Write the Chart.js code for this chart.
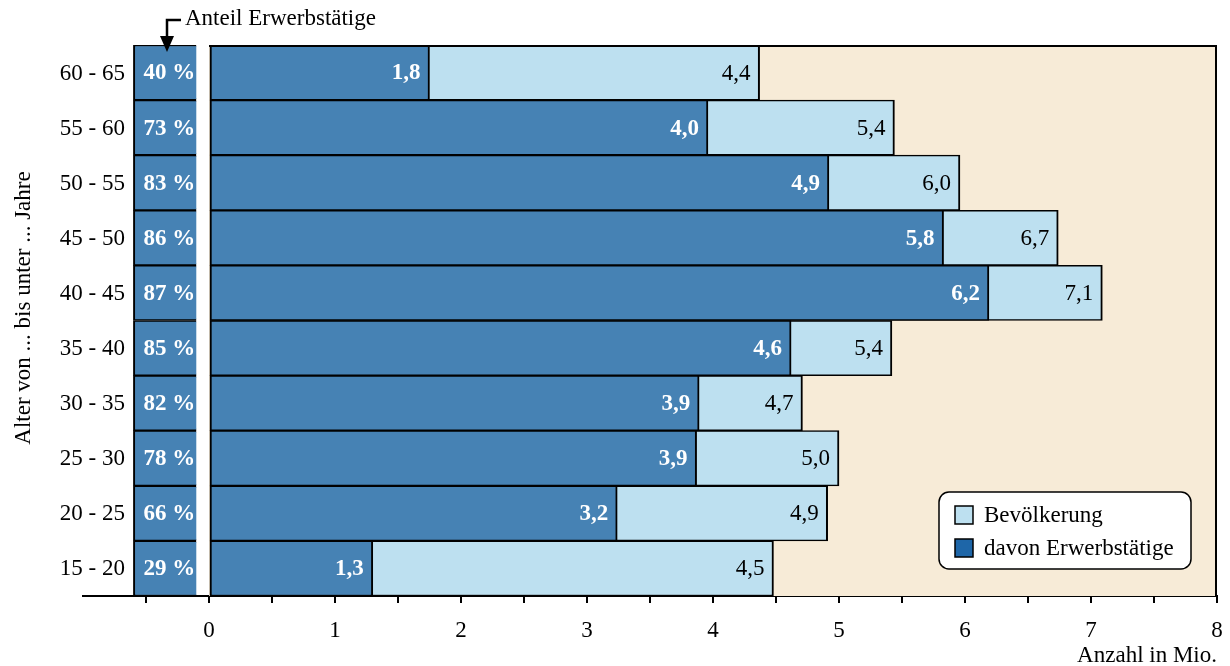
<!DOCTYPE html>
<html lang="de">
<head>
<meta charset="utf-8">
<title>Bevölkerung und Erwerbstätige nach Alter</title>
<script src="https://cdn.jsdelivr.net/npm/chart.js@4.4.1/dist/chart.umd.min.js"></script>
<style>
  html, body { margin: 0; padding: 0; background: #fff; }
  #chart { display: block; }
</style>
</head>
<body>
<canvas id="chart" width="1230" height="666"></canvas>
<script>
// Altersgruppen von oben nach unten
const ageGroups = ['60 - 65', '55 - 60', '50 - 55', '45 - 50', '40 - 45', '35 - 40', '30 - 35', '25 - 30', '20 - 25', '15 - 20'];
// Bevölkerung und davon Erwerbstätige, in Mio.
const population = [4.37, 5.44, 5.96, 6.74, 7.09, 5.42, 4.71, 5.0, 4.91, 4.48];
const employed = [1.75, 3.96, 4.92, 5.83, 6.19, 4.62, 3.89, 3.87, 3.24, 1.3];
// Anteil Erwerbstätige in %
const employedShare = [40, 73, 83, 86, 87, 85, 82, 78, 66, 29];
const xTickLabels = [0, 1, 2, 3, 4, 5, 6, 7, 8];

const serif = '"Liberation Serif", "Times New Roman", serif';
const darkBlue = '#4682b4';
const lightBlue = '#bde0f0';
const beige = '#f7ebd7';
const shareColumn = [-0.6, -0.1]; // Lage der Prozent-Spalte links von 0

Chart.defaults.font.family = serif;
Chart.defaults.font.size = 23;
Chart.defaults.color = '#000';

const fmt = v => v.toFixed(1).replace('.', ',');

const backdrop = {
  id: 'backdrop',
  beforeDatasetsDraw(chart) {
    const {ctx, chartArea: a, scales: {x}} = chart;
    const x0 = x.getPixelForValue(0);
    ctx.save();
    ctx.fillStyle = beige;
    ctx.fillRect(x0, a.top, a.right - x0, a.bottom - a.top);
    ctx.restore();
  },
  afterDatasetsDraw(chart) {
    const {ctx, chartArea: a, scales: {x}} = chart;
    const x0 = x.getPixelForValue(0);
    ctx.save();
    ctx.strokeStyle = '#000';
    ctx.lineWidth = 2;
    ctx.beginPath();
    ctx.moveTo(x0, a.top + 1);
    ctx.lineTo(a.right - 1, a.top + 1);
    ctx.lineTo(a.right - 1, a.bottom);
    ctx.stroke();
    ctx.restore();
  }
};

const valueLabels = {
  id: 'valueLabels',
  afterDatasetsDraw(chart) {
    const {ctx, scales: {y}} = chart;
    ctx.save();
    ctx.textBaseline = 'middle';
    ctx.textAlign = 'right';
    ctx.font = `23px ${serif}`;
    ctx.fillStyle = '#000';
    chart.getDatasetMeta(1).data.forEach((bar, i) => {
      ctx.fillText(fmt(population[i]), bar.x - 9, bar.y + 1);
    });
    // Beschriftung der Altersgruppen
    ageGroups.forEach((g, i) => {
      ctx.fillText(g, 125, y.getPixelForValue(i) + 1);
    });
    ctx.font = `bold 23px ${serif}`;
    ctx.fillStyle = '#fff';
    chart.getDatasetMeta(0).data.forEach((bar, i) => {
      ctx.fillText(fmt(employed[i]), bar.x - 9, bar.y + 1);
    });
    ctx.textAlign = 'left';
    chart.getDatasetMeta(2).data.forEach((bar, i) => {
      ctx.fillText(employedShare[i] + ' %', Math.min(bar.x, bar.base) + 10, bar.y + 1);
    });
    ctx.restore();
  }
};

const annotations = {
  id: 'annotations',
  afterDraw(chart) {
    const {ctx, chartArea: a, scales: {x}} = chart;
    ctx.save();
    // Hinweis "Anteil Erwerbstätige" mit Pfeil
    const ax = Math.round(x.getPixelForValue(-0.33));
    ctx.strokeStyle = '#000';
    ctx.fillStyle = '#000';
    ctx.lineWidth = 2.5;
    ctx.beginPath();
    ctx.moveTo(ax + 14, 20);
    ctx.lineTo(ax, 20);
    ctx.lineTo(ax, 40);
    ctx.stroke();
    ctx.beginPath();
    ctx.moveTo(ax - 7, 36);
    ctx.lineTo(ax + 7, 36);
    ctx.lineTo(ax, 52);
    ctx.closePath();
    ctx.fill();
    ctx.font = `23px ${serif}`;
    ctx.textAlign = 'left';
    ctx.textBaseline = 'middle';
    ctx.fillText('Anteil Erwerbstätige', ax + 18, 19);

    // Achsentitel
    ctx.textAlign = 'right';
    ctx.textBaseline = 'alphabetic';
    ctx.fillText('Anzahl in Mio.', a.right, 662);
    ctx.save();
    ctx.translate(30, 308);
    ctx.rotate(-Math.PI / 2);
    ctx.textAlign = 'center';
    ctx.fillText('Alter von ... bis unter ... Jahre', 0, 0);
    ctx.restore();

    // Legende
    const lx = a.right - 278, ly = a.bottom - 104, lw = 252, lh = 77;
    ctx.fillStyle = '#fff';
    ctx.strokeStyle = '#000';
    ctx.lineWidth = 1.5;
    ctx.beginPath();
    ctx.roundRect(lx, ly, lw, lh, 10);
    ctx.fill();
    ctx.stroke();
    const items = [['Bevölkerung', lightBlue], ['davon Erwerbstätige', '#1e66a8']];
    items.forEach(([label, color], i) => {
      const iy = ly + 14 + i * 33;
      ctx.fillStyle = color;
      ctx.fillRect(lx + 16, iy, 18, 18);
      ctx.strokeStyle = '#000';
      ctx.lineWidth = 1.5;
      ctx.strokeRect(lx + 16, iy, 18, 18);
      ctx.fillStyle = '#000';
      ctx.textAlign = 'left';
      ctx.textBaseline = 'middle';
      ctx.fillText(label, lx + 45, iy + 10);
    });
    ctx.restore();
  }
};

new Chart(document.getElementById('chart'), {
  type: 'bar',
  data: {
    labels: ageGroups,
    datasets: [
      {
        label: 'davon Erwerbstätige',
        data: employed,
        backgroundColor: darkBlue,
        borderColor: '#000',
        borderWidth: {top: 1.5, bottom: 1.5, left: 2, right: 2},
        borderSkipped: false,
        grouped: false
      },
      {
        label: 'Bevölkerung',
        data: population,
        backgroundColor: lightBlue,
        borderColor: '#000',
        borderWidth: {top: 1.5, bottom: 1.5, left: 2, right: 2},
        borderSkipped: false,
        grouped: false
      },
      {
        label: 'Anteil Erwerbstätige',
        data: employedShare.map(() => shareColumn),
        backgroundColor: darkBlue,
        borderColor: '#000',
        borderWidth: {top: 1.5, bottom: 1.5, left: 2, right: 0},
        borderSkipped: false,
        grouped: false
      }
    ]
  },
  options: {
    indexAxis: 'y',
    responsive: false,
    animation: false,
    devicePixelRatio: 1,
    events: [],
    barPercentage: 1,
    categoryPercentage: 1,
    layout: {padding: {top: 45, right: 13, left: 0, bottom: 0}},
    plugins: {
      legend: {display: false},
      tooltip: {enabled: false}
    },
    scales: {
      x: {
        type: 'linear',
        min: -1,
        max: 8,
        stacked: false,
        afterFit: s => { s.height = 70; s.paddingLeft = 0; s.paddingRight = 0; },
        grid: {
          drawOnChartArea: false,
          drawTicks: true,
          tickLength: 7,
          lineWidth: 2,
          color: c => (c.tick && c.tick.value === -1) ? 'rgba(0,0,0,0)' : '#000'
        },
        border: {display: true, color: '#000', width: 2},
        ticks: {
          stepSize: 0.5,
          autoSkip: false,
          maxRotation: 0,
          padding: 14,
          callback: v => xTickLabels.includes(v) ? String(v) : ''
        }
      },
      y: {
        afterFit: s => { s.width = 83; s.paddingTop = 0; s.paddingBottom = 0; },
        grid: {display: false},
        border: {display: false},
        ticks: {display: false}
      }
    }
  },
  plugins: [backdrop, valueLabels, annotations]
});
</script>
</body>
</html>
